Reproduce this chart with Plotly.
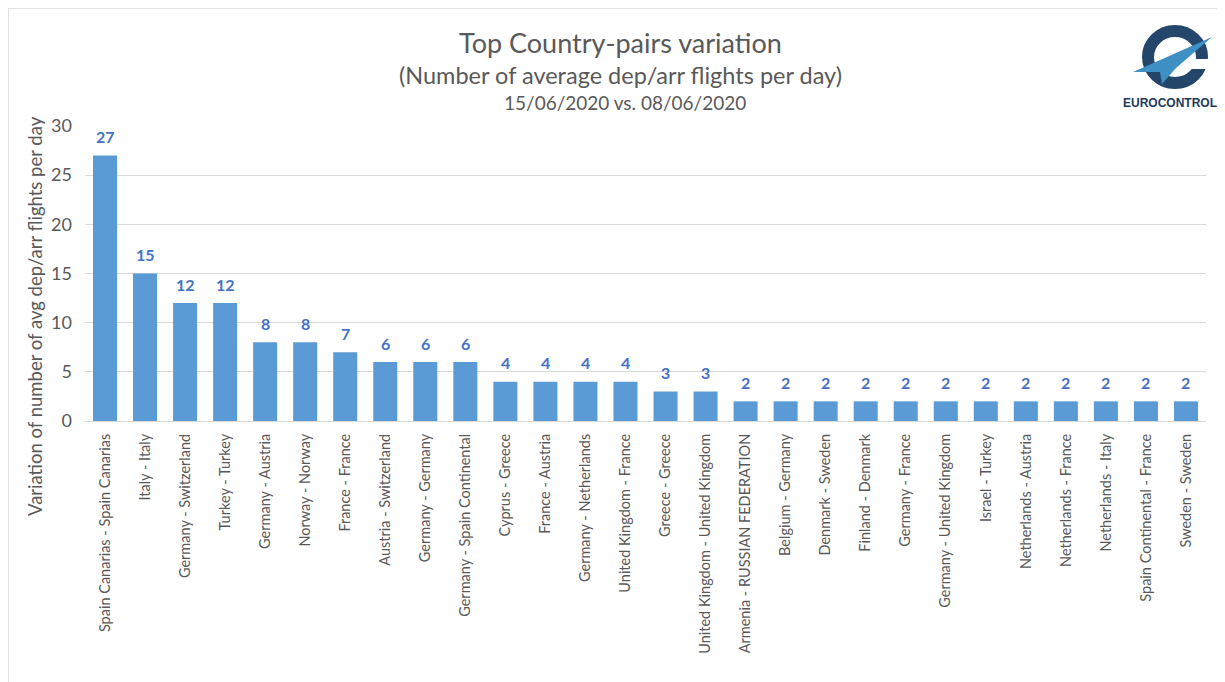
import plotly.graph_objects as go

categories = [
    "Spain Canarias - Spain Canarias", "Italy - Italy", "Germany - Switzerland",
    "Turkey - Turkey", "Germany - Austria", "Norway - Norway", "France - France",
    "Austria - Switzerland", "Germany - Germany", "Germany - Spain Continental",
    "Cyprus - Greece", "France - Austria", "Germany - Netherlands",
    "United Kingdom - France", "Greece - Greece", "United Kingdom - United Kingdom",
    "Armenia - RUSSIAN FEDERATION", "Belgium - Germany", "Denmark - Sweden",
    "Finland - Denmark", "Germany - France", "Germany - United Kingdom",
    "Israel - Turkey", "Netherlands - Austria", "Netherlands - France",
    "Netherlands - Italy", "Spain Continental - France", "Sweden - Sweden",
]
values = [27, 15, 12, 12, 8, 8, 7, 6, 6, 6, 4, 4, 4, 4, 3, 3,
          2, 2, 2, 2, 2, 2, 2, 2, 2, 2, 2, 2]
y_ticks = [0, 5, 10, 15, 20, 25, 30]

FONT = "Lato"
GRAY = "#595959"

fig = go.Figure(go.Bar(
    x=categories, y=values,
    marker=dict(color="#5B9BD5", line=dict(width=0)),
    cliponaxis=False,
))

# data labels placed above each bar
for c, v in zip(categories, values):
    fig.add_annotation(x=c, y=v, xref="x", yref="y", text=f"<b>{v}</b>",
                       showarrow=False, yanchor="middle", yshift=19,
                       font=dict(family=FONT, size=16, color="#4472C4"))

# page has an 8px body margin; reference coords are shifted by OFF
OFF = 8
W, H = 1225 - OFF, 682 - OFF
L, R, T, B = 85 - OFF, W - (1206 - OFF), 126 - OFF, H - (421 - OFF)
pw, ph = W - L - R, H - T - B

def px(x):
    return (x - OFF - L) / pw

def py(y):
    return (H - B - (y - OFF)) / ph

fig.update_layout(
    width=W, height=H, autosize=False,
    margin=dict(l=L, r=R, t=T, b=B, pad=0),
    paper_bgcolor="white", plot_bgcolor="white",
    bargap=0.4, showlegend=False,
    font=dict(family=FONT, color=GRAY),
    xaxis=dict(
        tickangle=-90, tickfont=dict(size=14.5, color=GRAY, family=FONT),
        showline=True, linecolor="#D9D9D9", linewidth=1,
        ticks="", showgrid=False, ticklabelstandoff=6,
    ),
    yaxis=dict(
        range=[0, 30], tickvals=y_ticks, showgrid=True, gridcolor="#D9D9D9",
        zeroline=False, showline=False, ticks="",
        tickfont=dict(size=18, color=GRAY, family=FONT), ticklabelstandoff=12,
    ),
)

# y-axis title (positioned like the reference, below the plot centre)
fig.add_annotation(text="Variation of number of avg dep/arr flights per day",
                   x=px(35), y=py(316), xref="paper", yref="paper", textangle=-90,
                   showarrow=False, xanchor="center", yanchor="middle",
                   font=dict(size=18.5, color=GRAY, family=FONT))

annotations = [
    dict(text="Top Country-pairs variation", x=px(620), y=py(42), size=27),
    dict(text="(Number of average dep/arr flights per day)", x=px(620), y=py(75), size=23.5),
    dict(text="15/06/2020 vs. 08/06/2020", x=px(625), y=py(103), size=19),
]
for a in annotations:
    fig.add_annotation(text=a["text"], x=a["x"], y=a["y"], xref="paper", yref="paper",
                       showarrow=False, xanchor="center", yanchor="middle",
                       font=dict(size=a["size"], color=GRAY, family=FONT))

# logo approximation
fig.add_annotation(text="<b>EUROCONTROL</b>", x=px(1219), y=py(103), xref="paper", yref="paper",
                   showarrow=False, xanchor="right", yanchor="middle",
                   font=dict(size=12, color="#1E3A5C", family="Liberation Sans Narrow, Liberation Sans"))
cx, cy, r = 1175, 57, 26
fig.add_shape(type="circle", xref="paper", yref="paper",
              x0=px(cx - r - 1), x1=px(cx + r + 1), y0=py(cy + r), y1=py(cy - r),
              line=dict(color="#24466B", width=12), fillcolor="rgba(0,0,0,0)")
fig.add_shape(type="rect", xref="paper", yref="paper",
              x0=px(cx + 2), x1=px(cx + r + 12), y0=py(cy + 12), y1=py(cy + 2),
              line=dict(width=0), fillcolor="white")
fig.add_shape(type="path", xref="paper", yref="paper",
              path=f"M {px(1133)},{py(72)} L {px(1212)},{py(37)} L {px(1176)},{py(68)} L {px(1162)},{py(84)} L {px(1160)},{py(72)} Z",
              line=dict(width=0), fillcolor="#3E8FC4")

# border
fig.add_shape(type="line", xref="paper", yref="paper", x0=px(8), x1=px(8), y0=py(8), y1=py(700),
              line=dict(color="#D9D9D9", width=1.5))
fig.add_shape(type="line", xref="paper", yref="paper", x0=px(8), x1=px(1240), y0=py(8), y1=py(8),
              line=dict(color="#D9D9D9", width=1.5))

fig.write_html("out.html")
